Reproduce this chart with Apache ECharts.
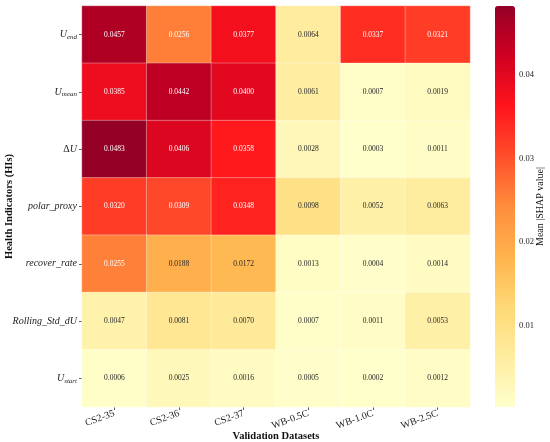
<!DOCTYPE html>
<html>
<head>
<meta charset="utf-8">
<script src="https://cdn.jsdelivr.net/npm/echarts@6/dist/echarts.min.js"></script>
<style>
  html, body { margin: 0; padding: 0; background: #fff; }
  #chart { width: 550px; height: 442px; }
</style>
</head>
<body>
<div id="chart"></div>
<script>
// validation datasets (columns) and health indicators (rows, top to bottom)
const datasets = ['CS2-35', 'CS2-36', 'CS2-37', 'WB-0.5C', 'WB-1.0C', 'WB-2.5C'];
const indicators = ['U_end', 'U_mean', 'dU', 'polar_proxy', 'recover_rate', 'Rolling_Std_dU', 'U_start'];
const indicatorLabels = {
  U_end: '{i|U}{sub|end}',
  U_mean: '{i|U}{sub|mean}',
  dU: '{n|Δ}{i|U}',
  polar_proxy: '{i|polar_proxy}',
  recover_rate: '{i|recover_rate}',
  Rolling_Std_dU: '{i|Rolling_Std_dU}',
  U_start: '{i|U}{sub|start}'
};

const shapValues = [
  [0.0457, 0.0256, 0.0377, 0.0064, 0.0337, 0.0321],
  [0.0385, 0.0442, 0.0400, 0.0061, 0.0007, 0.0019],
  [0.0483, 0.0406, 0.0358, 0.0028, 0.0003, 0.0011],
  [0.0320, 0.0309, 0.0348, 0.0098, 0.0052, 0.0063],
  [0.0255, 0.0188, 0.0172, 0.0013, 0.0004, 0.0014],
  [0.0047, 0.0081, 0.0070, 0.0007, 0.0011, 0.0053],
  [0.0006, 0.0025, 0.0016, 0.0005, 0.0002, 0.0012]
];

const colorbarTicks = [0.01, 0.02, 0.03, 0.04];

// YlOrRd, a bit brighter to match the reference print
const ylOrRd = ['#ffffcc', '#ffeda0', '#fed976', '#ffb24c', '#ff8d3c',
                '#ff4e2a', '#ff141c', '#d00022', '#950026'];

const flat = shapValues.flat();
const vMin = Math.min(...flat);
const vMax = Math.max(...flat);

const cells = [];
shapValues.forEach((row, r) => {
  row.forEach((v, c) => {
    cells.push({
      value: [c, r, v],
      label: { color: v > 0.022 ? '#ffffff' : '#262626' }
    });
  });
});

const serif = 'Liberation Serif, Times New Roman, serif';
const chart = echarts.init(document.getElementById('chart'));

chart.setOption({
  animation: false,
  textStyle: { fontFamily: serif },
  grid: [
    { left: 82, right: 80, top: 6, height: 401, outerBoundsMode: 'none' },
    { left: 495, width: 20, top: 6, height: 401, outerBoundsMode: 'none' }
  ],
  xAxis: [{
    type: 'category',
    gridIndex: 0,
    data: datasets,
    splitArea: { show: false },
    axisLine: { show: false },
    axisTick: { show: true, alignWithLabel: true, length: 3, lineStyle: { color: '#333', width: 0.8 } },
    axisLabel: { rotate: 20, fontSize: 10, color: '#222', fontFamily: serif, margin: 6 },
    name: 'Validation Datasets',
    nameLocation: 'middle',
    nameGap: 24,
    nameMoveOverlap: false,
    nameTextStyle: { fontSize: 10.5, fontWeight: 'bold', color: '#111', fontFamily: serif }
  }, {
    type: 'value',
    gridIndex: 1,
    show: false
  }],
  yAxis: [{
    type: 'category',
    gridIndex: 0,
    data: indicators,
    inverse: true,
    axisLine: { show: false },
    axisTick: { show: true, alignWithLabel: true, length: 3, lineStyle: { color: '#333', width: 0.8 } },
    axisLabel: {
      margin: 5,
      formatter: (v) => indicatorLabels[v],
      rich: {
        i: { fontStyle: 'italic', fontSize: 10, color: '#222', fontFamily: serif },
        n: { fontSize: 10, color: '#222', fontFamily: serif },
        sub: { fontStyle: 'italic', fontSize: 7, color: '#222', fontFamily: serif, verticalAlign: 'bottom', padding: [5, 0, 0, 0] }
      }
    },
    name: 'Health Indicators (HIs)',
    nameLocation: 'middle',
    nameGap: 67,
    nameMoveOverlap: false,
    nameTextStyle: { fontSize: 10.5, fontWeight: 'bold', color: '#111', fontFamily: serif }
  }, {
    type: 'value',
    gridIndex: 1,
    position: 'right',
    min: vMin,
    max: vMax,
    axisLine: { show: false },
    splitLine: { show: false },
    axisTick: { show: true, length: 3, customValues: colorbarTicks, lineStyle: { color: '#333', width: 0.8 } },
    axisLabel: {
      customValues: colorbarTicks,
      formatter: (v) => v.toFixed(2),
      fontSize: 8.5, color: '#222', margin: 4, fontFamily: serif
    },
    name: 'Mean |SHAP value|',
    nameLocation: 'middle',
    nameRotate: 90,
    nameGap: 20,
    nameMoveOverlap: false,
    nameTextStyle: { fontSize: 10, color: '#111', fontFamily: serif }
  }],
  visualMap: {
    type: 'continuous',
    min: vMin,
    max: vMax,
    seriesIndex: 0,
    calculable: false,
    hoverLink: false,
    left: 495,
    top: 6,
    padding: 0,
    itemWidth: 20,
    itemHeight: 401,
    text: ['', ''],
    showLabel: false,
    inRange: { color: ylOrRd }
  },
  series: [{
    type: 'heatmap',
    xAxisIndex: 0,
    yAxisIndex: 0,
    data: cells,
    label: {
      show: true,
      fontSize: 7.5,
      fontFamily: serif,
      formatter: (p) => p.value[2].toFixed(4)
    },
    itemStyle: { borderColor: 'rgba(255,255,255,0.55)', borderWidth: 0.6 }
  }]
});
</script>
</body>
</html>
